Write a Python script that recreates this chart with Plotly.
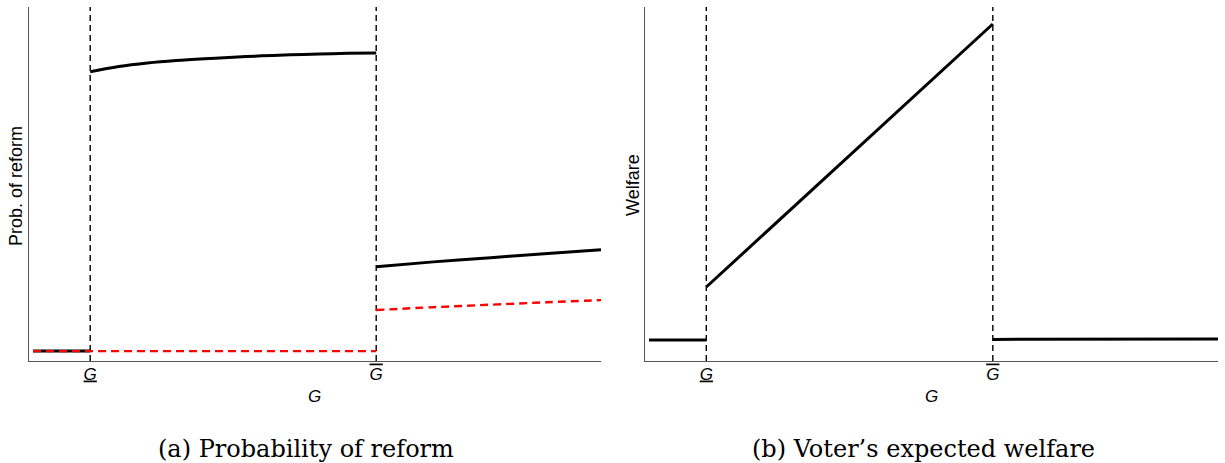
import plotly.graph_objects as go

# ---------------- data ----------------
# Thresholds on the G axis
G_low = 1.0
G_high = 6.0
tick_vals = [G_low, G_high]
tick_text = ['<span style="text-decoration:underline"><i>G</i></span>',
             '<span style="text-decoration:overline"><i>G</i></span>']

# Panel (a): probability of reform
a_low_x = [0.0, 1.0]
a_low_y = [0.028, 0.028]
a_mid_x = [1.0, 1.5, 2.0, 2.5, 3.0, 3.5, 4.0, 4.5, 5.0, 5.5, 6.0]
a_mid_y = [0.817, 0.832, 0.842, 0.849, 0.854, 0.858, 0.862, 0.865, 0.867, 0.869, 0.870]
a_high_x = [6.0, 7.0, 8.0, 9.0, 9.93]
a_high_y = [0.266, 0.280, 0.292, 0.304, 0.314]
red_low_x = [0.0, 6.0]
red_low_y = [0.028, 0.028]
red_high_x = [6.0, 7.0, 8.0, 9.0, 9.93]
red_high_y = [0.144, 0.152, 0.159, 0.166, 0.172]

# Panel (b): voter's expected welfare
b_low_x = [0.0, 1.0]
b_low_y = [0.059, 0.059]
b_mid_x = [1.0, 6.0]
b_mid_y = [0.209, 0.952]
b_high_x = [6.0, 9.93]
b_high_y = [0.061, 0.062]

x_range = [-0.07, 9.93]
y_range = [0.0, 1.0]

captions = ["(a) Probability of reform", "(b) Voter\u2019s expected welfare"]
y_titles = ["Prob. of reform", "Welfare"]

# ---------------- figure ----------------
W, H = 1225, 463
fig = go.Figure()

def add_line(x, y, xa, ya, color="black", width=3, dash="solid", shape="linear"):
    fig.add_trace(go.Scatter(x=x, y=y, mode="lines", xaxis=xa, yaxis=ya,
                             line=dict(color=color, width=width, dash=dash, shape=shape),
                             showlegend=False, hoverinfo="skip"))

vdash = "6px,4px"
rdash = "8px,5px"

# Panel (a)
for g in tick_vals:
    add_line([g, g], y_range, "x", "y", width=1.4, dash=vdash)
add_line(a_low_x, a_low_y, "x", "y")
add_line(a_mid_x, a_mid_y, "x", "y", shape="spline")
add_line(a_high_x, a_high_y, "x", "y", shape="spline")
add_line(red_low_x, red_low_y, "x", "y", color="#ff0000", width=2.4, dash=rdash)
add_line(red_high_x, red_high_y, "x", "y", color="#ff0000", width=2.4, dash=rdash, shape="spline")

# Panel (b)
for g in tick_vals:
    add_line([g, g], y_range, "x2", "y2", width=1.4, dash=vdash)
add_line(b_low_x, b_low_y, "x2", "y2")
add_line(b_mid_x, b_mid_y, "x2", "y2")
add_line(b_high_x, b_high_y, "x2", "y2")

ydom = [(H - 361) / H, (H - 7) / H]
xdom1 = [29 / W, 601 / W]
xdom2 = [645 / W, 1218 / W]

axis_common = dict(range=x_range, showgrid=False, zeroline=False, showline=True,
                   linecolor="#555555", linewidth=1.3, ticks="",
                   tickvals=tick_vals, ticktext=tick_text, ticklabelstandoff=-3,
                   tickfont=dict(family="Liberation Sans", size=17, color="black"))
yaxis_common = dict(range=y_range, showgrid=False, zeroline=False, showline=True,
                    linecolor="#555555", linewidth=1.3, ticks="", showticklabels=False,
                    domain=ydom)

fig.update_layout(
    width=W, height=H,
    margin=dict(l=0, r=0, t=0, b=0),
    paper_bgcolor="white", plot_bgcolor="white",
    xaxis=dict(domain=xdom1, anchor="y", **axis_common),
    yaxis=dict(anchor="x", **yaxis_common),
    xaxis2=dict(domain=xdom2, anchor="y2", **axis_common),
    yaxis2=dict(anchor="x2", **yaxis_common),
)

ann = []
# x-axis titles
for dom in (xdom1, xdom2):
    ann.append(dict(text="<i>G</i>", xref="paper", yref="paper",
                    x=(dom[0] + dom[1]) / 2, y=(H - 396) / H,
                    showarrow=False, xanchor="center", yanchor="middle",
                    font=dict(family="Liberation Sans", size=17, color="black")))
# y-axis titles
ann.append(dict(text=y_titles[0], xref="paper", yref="paper",
                x=16 / W, y=(H - 186) / H, textangle=-90, showarrow=False,
                xanchor="center", yanchor="middle",
                font=dict(family="Liberation Sans", size=18, color="black")))
ann.append(dict(text=y_titles[1], xref="paper", yref="paper",
                x=633 / W, y=(H - 185) / H, textangle=-90, showarrow=False,
                xanchor="center", yanchor="middle",
                font=dict(family="Liberation Sans", size=18, color="black")))
# captions
ann.append(dict(text=captions[0], xref="paper", yref="paper",
                x=306 / W, y=(H - 449) / H, showarrow=False,
                xanchor="center", yanchor="middle",
                font=dict(family="DejaVu Serif", size=24, color="black")))
ann.append(dict(text=captions[1], xref="paper", yref="paper",
                x=923 / W, y=(H - 449) / H, showarrow=False,
                xanchor="center", yanchor="middle",
                font=dict(family="DejaVu Serif", size=24, color="black")))
fig.update_layout(annotations=ann)

fig.write_html("out.html", config={"displayModeBar": False},
               post_script="document.body.style.margin='0px';")
